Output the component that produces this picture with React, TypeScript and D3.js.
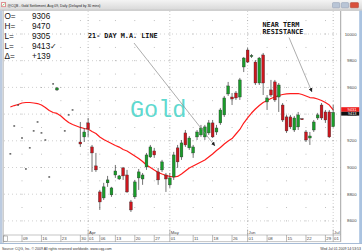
import React from 'react';
import * as d3 from 'd3';

const W = 362;
const H = 252;

const days = [
  '03-04', '03-05', '03-06',
  '03-09', '03-10', '03-11', '03-12', '03-13',
  '03-16', '03-17', '03-18', '03-19', '03-20',
  '03-23', '03-24', '03-25', '03-26', '03-27',
  '03-30', '03-31', '04-01', '04-02', '04-03',
  '04-06', '04-07', '04-08', '04-09',
  '04-13', '04-14', '04-15', '04-16', '04-17',
  '04-20', '04-21', '04-22', '04-23', '04-24',
  '04-27', '04-28', '04-29', '04-30', '05-01',
  '05-04', '05-05', '05-06', '05-07', '05-08',
  '05-11', '05-12', '05-13', '05-14', '05-15',
  '05-18', '05-19', '05-20', '05-21', '05-22',
  '05-26', '05-27', '05-28', '05-29',
  '06-01', '06-02', '06-03', '06-04', '06-05',
  '06-08', '06-09', '06-10', '06-11', '06-12',
  '06-15', '06-16', '06-17', '06-18', '06-19',
  '06-22', '06-23', '06-24', '06-25', '06-26',
  '06-29', '06-30', '07-01',
];

// 21-day moving average, one value per day above
const ma21 = [
  9453, 9464, 9472, 9483, 9487, 9487, 9483, 9479, 9468, 9449,
  9427, 9412, 9405, 9386, 9360, 9337, 9322, 9311, 9300, 9292,
  9288, 9270, 9255, 9229, 9210, 9195, 9180, 9165, 9153, 9135,
  9124, 9105, 9086, 9067, 9045, 9019, 9000, 8981, 8963, 8951,
  8940, 8933, 8929, 8933, 8951, 8974, 8996, 9011, 9026, 9041,
  9056, 9079, 9101, 9127, 9150, 9176, 9199, 9217, 9251, 9285,
  9333, 9371, 9408, 9438, 9464, 9487, 9502, 9517, 9528, 9539,
  9547, 9551, 9554, 9554, 9554, 9547, 9536, 9524, 9521, 9513,
  9502, 9487, 9468, 9431,
];

const candleDates = [
  '03-04', '03-05', '03-06', '03-09', '03-10', '03-11', '03-12', '03-13',
  '03-16', '03-17', '03-18', '03-19', '03-20', '03-24', '03-25', '03-26',
  '03-30', '03-31', '04-01', '04-02', '04-03',
  '04-06', '04-07', '04-08', '04-09',
  '04-13', '04-14', '04-15', '04-16', '04-17',
  '04-20', '04-21', '04-22', '04-23', '04-24',
  '04-27', '04-28', '04-29', '04-30', '05-01',
  '05-04', '05-05', '05-06', '05-07', '05-08',
  '05-11', '05-12', '05-13', '05-14', '05-15',
  '05-18', '05-19', '05-20', '05-21', '05-22',
  '05-26', '05-27', '05-28', '05-29',
  '06-01', '06-02', '06-03', '06-04', '06-05',
  '06-08', '06-09', '06-10', '06-11', '06-12',
  '06-15', '06-16', '06-17', '06-18', '06-19',
  '06-22', '06-23', '06-24', '06-25', '06-26',
  '06-29', '06-30', '07-01',
];

const open = [
  9102, 9311, 9468, 9221, 8989, 9147, 9274, 9341,
  9259, 9206, 8929, 9626, 9581, 9274, 9394, 9431,
  9191, 9229, 9334, 9154, 9012,
  8817, 8772, 8885, 8795,
  8944, 8914, 8997, 8944, 8742,
  8780, 8922, 8914, 9004, 9079,
  9124, 8967, 8982, 8944, 8870,
  8929, 9147, 9079, 9259, 9147,
  9109, 9229, 9244, 9229, 9259,
  9334, 9266, 9334, 9394, 9551,
  9528, 9558, 9528, 9753,
  9880, 9831, 9790, 9633, 9843,
  9491, 9581, 9641, 9528, 9468,
  9379, 9379, 9281, 9304, 9365,
  9266, 9221, 9281, 9371, 9468,
  9416, 9416, 9306,
];

const high = [
  9102, 9311, 9468, 9221, 8989, 9147, 9274, 9341,
  9259, 9206, 8929, 9626, 9603, 9274, 9394, 9431,
  9341, 9296, 9371, 9169, 9109,
  8832, 8885, 8937, 8855,
  9019, 8944, 9004, 8982, 8757,
  8907, 8989, 8959, 9109, 9169,
  9147, 8997, 9057, 8959, 8959,
  9117, 9169, 9206, 9281, 9236,
  9169, 9281, 9319, 9319, 9356,
  9356, 9319, 9446, 9536, 9641,
  9558, 9573, 9671, 9828,
  9895, 9850, 9805, 9828, 9858,
  9543, 9656, 9656, 9633, 9483,
  9394, 9394, 9386, 9416, 9371,
  9281, 9266, 9356, 9409, 9483,
  9431, 9431, 9470,
];

const low = [
  9102, 9311, 9468, 9221, 8989, 9147, 9274, 9341,
  9259, 9206, 8929, 9626, 9573, 9274, 9394, 9431,
  9154, 9191, 9229, 8967, 8967,
  8682, 8757, 8855, 8780,
  8922, 8907, 8907, 8810, 8667,
  8765, 8832, 8870, 8982, 9072,
  9072, 8870, 8967, 8817, 8847,
  8907, 8997, 9057, 9154, 9132,
  9072, 9206, 9229, 9206, 9244,
  9221, 9244, 9319, 9379, 9536,
  9468, 9506, 9506, 9715,
  9783, 9820, 9618, 9618, 9543,
  9431, 9528, 9491, 9416, 9341,
  9259, 9289, 9266, 9281, 9356,
  9191, 9169, 9266, 9356, 9356,
  9334, 9221, 9305,
];

const close = [
  9102, 9311, 9468, 9221, 8989, 9147, 9274, 9341,
  9259, 9206, 8929, 9626, 9596, 9274, 9394, 9431,
  9176, 9266, 9289, 9109, 8982,
  8742, 8855, 8907, 8847,
  8974, 8937, 8937, 8817, 8682,
  8892, 8967, 8944, 9094, 9154,
  9094, 8907, 9042, 8914, 8922,
  9094, 9042, 9184, 9169, 9221,
  9154, 9266, 9296, 9304, 9334,
  9229, 9296, 9431, 9521, 9611,
  9513, 9521, 9656, 9820,
  9790, 9839, 9633, 9820, 9633,
  9521, 9543, 9506, 9618, 9356,
  9274, 9304, 9371, 9394, 9362,
  9206, 9236, 9341, 9394, 9371,
  9356, 9229, 9413,
];

const yTicks = [10000, 9800, 9600, 9400, 9200, 9000, 8800, 8600];
const yMinor = [10100, 9900, 9700, 9500, 9300, 9100, 8900, 8700];
const xTickDates = ['03-09', '03-16', '03-23', '03-30', '04-01', '04-06', '04-13', '04-20', '04-27', '05-01', '05-11', '05-18', '05-26', '06-01', '06-08', '06-15', '06-22', '06-29', '07-01'];
const xTickLabels = ['09', '16', '23', '30', '01', '06', '13', '20', '27', '01', '11', '18', '26', '01', '08', '15', '22', '29', '01'];
const monthDates = ['04-01', '05-01', '06-01', '07-01'];
const monthLabels = ['Apr', 'May', 'Jun', 'Jul'];
const quoteLabels = ['O=', 'H=', 'L=', 'L=', 'Δ='];
const quoteValues = ['9306', '9470', '9305', '9413✓', '+139'];
const lastMA = '9431';
const lastPrice = '9413';

const SANS = '"Liberation Sans", Arial, sans-serif';
const MONO = '"DejaVu Sans Mono", monospace';

export default function App() {
  const x = d3.scaleLinear().domain([3, 83]).range([22, 333.2]);
  const y = d3.scaleLinear().domain([8600, 10000]).range([220.9, 34]);
  const xd = (d: string) => x(days.indexOf(d));

  const plotL = 4;
  const plotR = 340.7;
  const plotT = 11;
  const axisT = 235;
  const axisB = 241.8;

  const maPath = d3
    .line<number>()
    .x((_, i) => x(i))
    .y((v) => y(v))(ma21) as string;

  const up = '#1a9c2a';
  const down = '#cc161e';

  return (
    <svg
      width={W}
      height={H}
      viewBox={`0 0 ${W} ${H}`}
      style={{ position: 'fixed', left: 0, top: 0, display: 'block', background: '#fff' }}
    >
      <defs>
        <linearGradient id="tb" x1="0" y1="0" x2="0" y2="1">
          <stop offset="0" stopColor="#f4f4f4" />
          <stop offset="1" stopColor="#d8d8d8" />
        </linearGradient>
        <marker id="arr" viewBox="0 0 6 6" refX="6" refY="3" markerWidth="4" markerHeight="4" orient="auto" markerUnits="userSpaceOnUse">
          <path d="M0,0 L6,3 L0,6 z" fill="#222" />
        </marker>
      </defs>

      {/* title bar */}
      <rect x={0} y={0} width={W} height={10} fill="url(#tb)" />
      <line x1={0} x2={W} y1={10.3} y2={10.3} stroke="#9a9a9a" strokeWidth={0.6} />
      <rect x={1.8} y={2.6} width={3.6} height={4.2} fill="#fff" stroke="#c33" strokeWidth={0.5} />
      <line x1={2.6} x2={4.6} y1={5.6} y2={3.6} stroke="#2a2" strokeWidth={0.6} />
      <text x={7.5} y={6.6} fontSize={3.4} fontFamily={SANS} fill="#222">
        @CQB - Gold Settlement, Aug 09, Daily (Delayed by 30 mins)
      </text>
      <rect x={332.5} y={2.6} width={7.2} height={5.2} rx={0.8} fill="#b9c5d6" stroke="#7f8ea6" strokeWidth={0.4} />
      <rect x={341.4} y={2.6} width={7.2} height={5.2} rx={0.8} fill="#b9c5d6" stroke="#7f8ea6" strokeWidth={0.4} />
      <rect x={350.3} y={2.6} width={8.2} height={5.2} rx={0.8} fill="#d9503c" stroke="#a0301f" strokeWidth={0.4} />

      {/* frame */}
      <rect x={0} y={10.6} width={2.4} height={232.6} fill="#bccbe0" />
      <line x1={3.2} x2={3.2} y1={10.6} y2={243} stroke="#8a8a8a" strokeWidth={0.6} />
      <rect x={359.2} y={10.6} width={2.8} height={232.6} fill="#aac3e0" />
      <line x1={plotR} x2={plotR} y1={plotT} y2={axisB} stroke="#666" strokeWidth={0.6} />

      {/* grid */}
      {yTicks.map((t) => (
        <line key={'gh' + t} x1={plotL} x2={plotR} y1={y(t)} y2={y(t)} stroke="#9c9c9c" strokeWidth={0.6} strokeDasharray="0.8 3.2" />
      ))}
      {yMinor.map((t) =>
        xTickDates.map((d) => (
          <rect key={'gm' + t + d} x={xd(d) - 0.4} y={y(t) - 0.4} width={0.8} height={0.8} fill="#9c9c9c" />
        ))
      )}
      {yTicks.map((t) =>
        xTickDates.map((d) => (
          <rect key={'gj' + t + d} x={xd(d) - 0.4} y={y(t) - 0.4} width={0.8} height={0.8} fill="#8c8c8c" />
        ))
      )}
      {monthDates.map((d) => (
        <line key={'gv' + d} x1={xd(d)} x2={xd(d)} y1={plotT} y2={axisT} stroke="#9c9c9c" strokeWidth={0.6} strokeDasharray="0.8 2.2" />
      ))}

      {/* annotations behind data */}
      <text x={130} y={117} fontSize={23.5} fontFamily='"Liberation Mono", "Courier New", monospace' fill="#5fd9cf">
        Gold
      </text>

      {/* moving average */}
      <path d={maPath} fill="none" stroke="#ff1c1c" strokeWidth={1.2} strokeLinejoin="round" />

      {/* candles */}
      {candleDates.map((d, i) => {
        const cx = xd(d);
        const o = open[i];
        const c = close[i];
        const h = high[i];
        const l = low[i];
        if (h === l) {
          return <rect key={'c' + d} x={cx - 0.9} y={y(c) - 0.6} width={1.8} height={1.2} fill="#333" />;
        }
        const top = y(Math.max(o, c));
        const bot = y(Math.min(o, c));
        const fill = c > o ? up : c < o ? down : '#222';
        return (
          <g key={'c' + d}>
            <line x1={cx} x2={cx} y1={y(h)} y2={y(l)} stroke="#3a3a3a" strokeWidth={0.7} />
            <rect x={cx - 1.4} y={top} width={2.8} height={Math.max(bot - top, 1)} fill={fill} stroke="#2a2a2a" strokeWidth={0.35} />
          </g>
        );
      })}

      {/* text annotations */}
      {quoteLabels.map((q, i) => (
        <g key={'q' + i}>
          <text x={4.5} y={18.5 + i * 10} fontSize={8.2} fontFamily={SANS} fill="#111">{q}</text>
          <text x={32} y={18.5 + i * 10} fontSize={8.2} fontFamily={SANS} fill="#111">{quoteValues[i]}</text>
        </g>
      ))}
      <text x={88} y={38.3} fontSize={6.8} fontWeight="bold" fontFamily={MONO} fill="#111">21- DAY M.A. LINE</text>
      <line x1={134} y1={43} x2={215} y2={146} stroke="#8a8a8a" strokeWidth={0.7} markerEnd="url(#arr)" />
      <text x={262.5} y={27.4} fontSize={6.8} fontWeight="bold" fontFamily={MONO} fill="#111">NEAR TERM</text>
      <text x={262.5} y={34.4} fontSize={6.8} fontWeight="bold" fontFamily={MONO} fill="#111">RESISTANCE</text>
      <line x1={289} y1={37.5} x2={312} y2={92} stroke="#8a8a8a" strokeWidth={0.7} markerEnd="url(#arr)" />

      {/* right axis */}
      {yTicks.map((t) => (
        <text key={'yl' + t} x={356.6} y={y(t) + 1.5} fontSize={4.3} textAnchor="end" fontFamily={SANS} fill="#444">
          {t}
        </text>
      ))}
      <rect x={341.2} y={107.2} width={18} height={4.6} fill="#ee1c1c" />
      <text x={356.4} y={110.9} fontSize={4} textAnchor="end" fontFamily={SANS} fill="#fff">{lastMA}</text>
      <rect x={341.2} y={111.8} width={18} height={3.8} fill="#111" />
      <text x={356.4} y={115.1} fontSize={3.8} textAnchor="end" fontFamily={SANS} fill="#fff">{lastPrice}</text>

      {/* x axis */}
      <rect x={plotL} y={axisT} width={plotR - plotL} height={axisB - axisT} fill="#fff" stroke="#8a8a8a" strokeWidth={0.5} />
      <rect x={3.6} y={236} width={4} height={5.2} fill="#fff" stroke="#7a7a7a" strokeWidth={0.5} />
      {xTickDates.map((d, i) => (
        <g key={'xt' + i}>
          <line x1={xd(d)} x2={xd(d)} y1={axisT} y2={axisB} stroke="#777" strokeWidth={0.5} />
          <text x={xd(d) + 0.9} y={240.3} fontSize={4.3} fontFamily={SANS} fill="#444">{xTickLabels[i]}</text>
        </g>
      ))}
      {monthDates.map((d, i) => (
        <g key={'mt' + i}>
          <line x1={xd(d)} x2={xd(d)} y1={229.5} y2={axisT} stroke="#777" strokeWidth={0.5} />
          <text x={xd(d) + 0.9} y={234.2} fontSize={4.3} fontFamily={SANS} fill="#444">{monthLabels[i]}</text>
        </g>
      ))}

      {/* footer */}
      <rect x={0} y={243} width={W} height={0.9} fill="#9db5d2" />
      <text x={2} y={249.6} fontSize={3.5} fontFamily={SANS} fill="#333">
        Source: CQG, Inc. © 2009 All rights reserved worldwide. www.cqg.com
      </text>
      <text x={361} y={249.8} fontSize={3.5} textAnchor="end" fontFamily={SANS} fill="#333">
        Wed Jul 01 2009 14:53:53
      </text>
    </svg>
  );
}
